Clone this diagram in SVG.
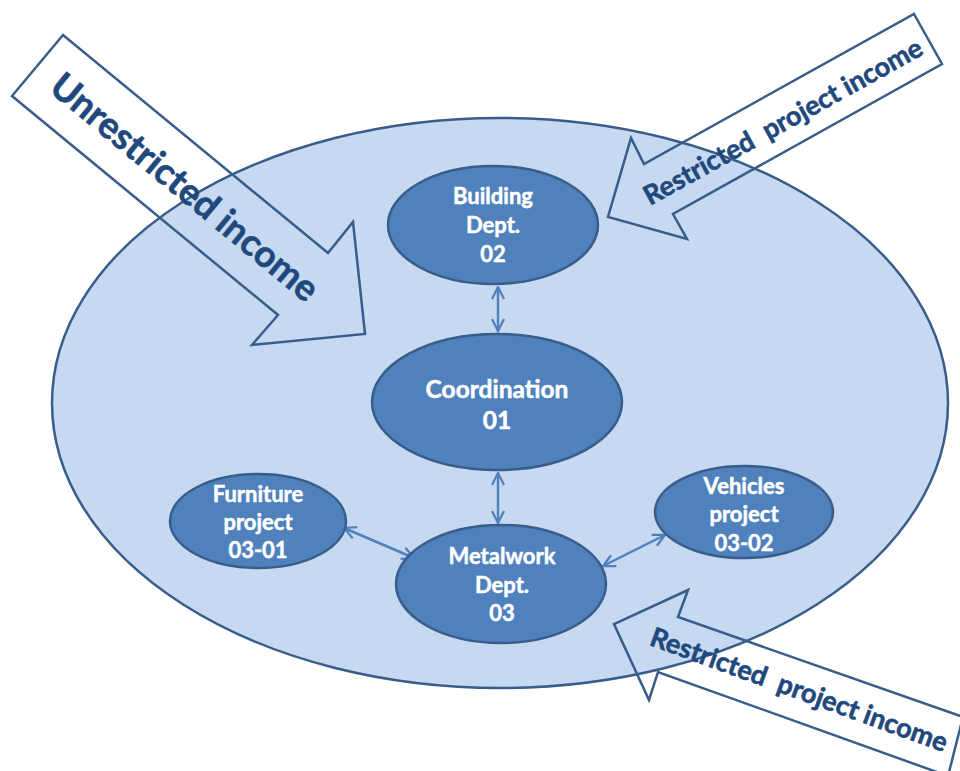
<svg xmlns="http://www.w3.org/2000/svg" width="960" height="771" viewBox="0 0 960 771">
<defs>
<style>
.node{fill:#4f81bd;stroke:#385d8a;stroke-width:2.5}
.lbl{font-family:Lato,"Open Sans","Liberation Sans",sans-serif;font-weight:bold;fill:#ffffff;stroke:#ffffff;stroke-width:0.5;text-anchor:middle}
.big{font-family:Lato,"Open Sans","Liberation Sans",sans-serif;font-weight:bold;fill:#1f497d;stroke:#1f497d;stroke-width:0.6;text-anchor:middle}
.arrow{fill:none;stroke:#385d8a;stroke-width:2.5;stroke-linejoin:miter}
.conn{stroke:#4f81bd;stroke-width:2.5;fill:none;marker-start:url(#ah);marker-end:url(#ah)}
</style>
<marker id="ah" viewBox="0 0 10 10" refX="9" refY="5" markerWidth="6" markerHeight="6" orient="auto-start-reverse" markerUnits="strokeWidth">
<path d="M1,1 L9,5 L1,9" fill="none" stroke="#4f81bd" stroke-width="1.5"/>
</marker>
</defs>
<rect width="960" height="771" fill="#ffffff"/>
<g id="background">
<ellipse cx="500" cy="403" rx="448" ry="285" fill="#c6d9f1" stroke="#385d8a" stroke-width="2.5"/>
</g>
<g id="unrestricted-income">
<polygon class="arrow" points="63,35 12,96 278,315 252,345 365,334 353,222 328,253"/>
<g transform="translate(185,187) rotate(39.5)"><text class="big" x="0" y="13" font-size="37">Unrestricted income</text></g>
</g>
<g id="restricted-income-top">
<polygon class="arrow" points="914,14 942,64 673,214 687,239 608,217 631,138 644,164"/>
<g transform="translate(783,122) rotate(-29)"><text class="big" x="0" y="9" font-size="27" xml:space="preserve">Restricted  project income</text></g>
</g>
<g id="restricted-income-bottom">
<polygon class="arrow" points="688,590 678,617 963,717 948,776 658,672 649,700 614,624"/>
<g transform="translate(799,690) rotate(20)"><text class="big" x="0" y="9" font-size="27" xml:space="preserve">Restricted  project income</text></g>
</g>
<g id="connectors">
<line class="conn" x1="498" y1="287" x2="498" y2="331"/>
<line class="conn" x1="498" y1="473" x2="498" y2="523"/>
<line class="conn" x1="344" y1="528" x2="414" y2="558"/>
<line class="conn" x1="603" y1="566" x2="665" y2="535"/>
</g>
<g id="building">
<ellipse class="node" cx="493" cy="225" rx="105" ry="59"/>
<text class="lbl" font-size="22"><tspan x="493" y="204">Building</tspan><tspan x="493" y="233">Dept.</tspan><tspan x="493" y="262">02</tspan></text>
</g>
<g id="coordination">
<ellipse class="node" cx="497" cy="402" rx="125" ry="68"/>
<text class="lbl" font-size="24.5"><tspan x="497" y="398">Coordination</tspan><tspan x="497" y="429">01</tspan></text>
</g>
<g id="furniture">
<ellipse class="node" cx="258" cy="521" rx="88" ry="47"/>
<text class="lbl" font-size="22"><tspan x="258" y="502">Furniture</tspan><tspan x="258" y="530">project</tspan><tspan x="258" y="558">03-01</tspan></text>
</g>
<g id="metalwork">
<ellipse class="node" cx="501" cy="584" rx="105" ry="59"/>
<text class="lbl" font-size="22"><tspan x="502" y="564">Metalwork</tspan><tspan x="502" y="593">Dept.</tspan><tspan x="502" y="621">03</tspan></text>
</g>
<g id="vehicles">
<ellipse class="node" cx="744" cy="512" rx="89" ry="46"/>
<text class="lbl" font-size="22"><tspan x="744" y="494">Vehicles</tspan><tspan x="744" y="522">project</tspan><tspan x="744" y="551">03-02</tspan></text>
</g>
</svg>
